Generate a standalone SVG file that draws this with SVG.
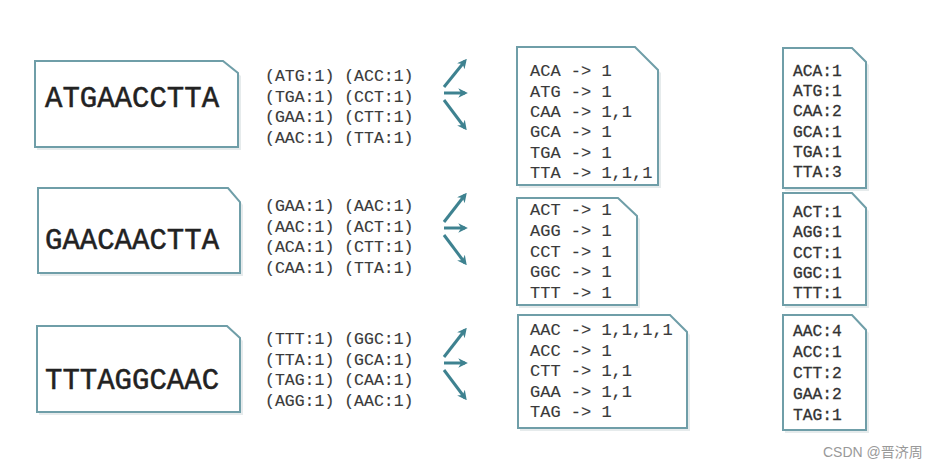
<svg xmlns="http://www.w3.org/2000/svg" width="936" height="470" viewBox="0 0 936 470">
<defs>
<style>
.box{fill:#ffffff;stroke:#6f9ea8;stroke-width:2}
.shadow{fill:#e6ebec}
.seq{font-family:"Liberation Mono","DejaVu Sans Mono",monospace;font-size:29px;fill:#222;stroke:#222;stroke-width:0.5}
.pair{font-family:"Liberation Mono","DejaVu Sans Mono",monospace;font-size:16.5px;fill:#3a3a3a;stroke:#3a3a3a;stroke-width:0.15}
.lst{font-family:"Liberation Mono","DejaVu Sans Mono",monospace;font-size:17px;fill:#3a3a3a;stroke:#3a3a3a;stroke-width:0.15}
.cnt{font-family:"Liberation Mono","DejaVu Sans Mono",monospace;font-size:16.3px;fill:#333;stroke:#333;stroke-width:0.3}
.arr{stroke:#3e8290;stroke-width:3;fill:none;marker-end:url(#ah)}
.wm{font-family:"Liberation Sans","Noto Sans CJK SC",sans-serif;font-size:14px;fill:#999}
</style>
<marker id="ah" viewBox="0 0 10 10" refX="7" refY="5" markerWidth="3.2" markerHeight="3.2" orient="auto" markerUnits="strokeWidth">
<path d="M0,0 L10,5 L0,10 L3,5 z" fill="#3e8290"/>
</marker>
</defs>
<rect width="936" height="470" fill="#ffffff"/>

<g id="seq1">
<path class="shadow" d="M37,64 H226 L241,76 V150 H37 z"/>
<path class="box" d="M35,61 H223 L238,73 V147 H35 z"/>
<text class="seq" x="45" y="107">ATGAACCTTA</text>
</g>
<g id="seq2">
<path class="shadow" d="M40,191 H231 L243,205 V276 H40 z"/>
<path class="box" d="M38,188 H228 L240,202 V273 H38 z"/>
<text class="seq" x="45" y="249">GAACAACTTA</text>
</g>
<g id="seq3">
<path class="shadow" d="M39,329 H230 L243,341 V415 H39 z"/>
<path class="box" d="M37,326 H227 L240,338 V412 H37 z"/>
<text class="seq" x="45" y="389">TTTAGGCAAC</text>
</g>

<g id="pairs1">
<text class="pair" x="265" y="81">(ATG:1) (ACC:1)</text>
<text class="pair" x="265" y="102">(TGA:1) (CCT:1)</text>
<text class="pair" x="265" y="122">(GAA:1) (CTT:1)</text>
<text class="pair" x="265" y="143">(AAC:1) (TTA:1)</text>
</g>
<g id="pairs2">
<text class="pair" x="265" y="211">(GAA:1) (AAC:1)</text>
<text class="pair" x="265" y="232">(AAC:1) (ACT:1)</text>
<text class="pair" x="265" y="252">(ACA:1) (CTT:1)</text>
<text class="pair" x="265" y="273">(CAA:1) (TTA:1)</text>
</g>
<g id="pairs3">
<text class="pair" x="265" y="344">(TTT:1) (GGC:1)</text>
<text class="pair" x="265" y="365">(TTA:1) (GCA:1)</text>
<text class="pair" x="265" y="385">(TAG:1) (CAA:1)</text>
<text class="pair" x="265" y="406">(AGG:1) (AAC:1)</text>
</g>

<g id="connectors">
<line class="arr" x1="444" y1="87" x2="465" y2="61"/>
<line class="arr" x1="444" y1="93" x2="465" y2="93"/>
<line class="arr" x1="444" y1="100" x2="465" y2="128"/>
<line class="arr" x1="444" y1="222" x2="465" y2="195"/>
<line class="arr" x1="444" y1="228" x2="465" y2="228"/>
<line class="arr" x1="444" y1="235" x2="465" y2="263"/>
<line class="arr" x1="444" y1="357" x2="465" y2="330"/>
<line class="arr" x1="444" y1="363" x2="465" y2="363"/>
<line class="arr" x1="444" y1="370" x2="465" y2="398"/>
</g>

<g id="list1">
<path class="shadow" d="M519,50 H637 L661,73 V188 H519 z"/>
<path class="box" d="M517,47 H635 L658,70 V185 H517 z"/>
<text class="lst" x="530" y="76">ACA -&gt; 1</text>
<text class="lst" x="530" y="96.5">ATG -&gt; 1</text>
<text class="lst" x="530" y="117">CAA -&gt; 1,1</text>
<text class="lst" x="530" y="137">GCA -&gt; 1</text>
<text class="lst" x="530" y="157.5">TGA -&gt; 1</text>
<text class="lst" x="530" y="178">TTA -&gt; 1,1,1</text>
</g>
<g id="list2">
<path class="shadow" d="M519,201 H620 L640,219 V308 H519 z"/>
<path class="box" d="M517,198 H618 L637,216 V305 H517 z"/>
<text class="lst" x="530" y="215">ACT -&gt; 1</text>
<text class="lst" x="530" y="236">AGG -&gt; 1</text>
<text class="lst" x="530" y="256.5">CCT -&gt; 1</text>
<text class="lst" x="530" y="277">GGC -&gt; 1</text>
<text class="lst" x="530" y="298">TTT -&gt; 1</text>
</g>
<g id="list3">
<path class="shadow" d="M520,318 H672 L690,335 V431 H520 z"/>
<path class="box" d="M518,315 H670 L687,332 V428 H518 z"/>
<text class="lst" x="530" y="335">AAC -&gt; 1,1,1,1</text>
<text class="lst" x="530" y="355.5">ACC -&gt; 1</text>
<text class="lst" x="530" y="376">CTT -&gt; 1,1</text>
<text class="lst" x="530" y="396.5">GAA -&gt; 1,1</text>
<text class="lst" x="530" y="417">TAG -&gt; 1</text>
</g>

<g id="count1">
<path class="shadow" d="M785,51 H854 L869,65 V191 H785 z"/>
<path class="box" d="M783,48 H852 L866,62 V188 H783 z"/>
<text class="cnt" x="793" y="76">ACA:1</text>
<text class="cnt" x="793" y="96.2">ATG:1</text>
<text class="cnt" x="793" y="116.4">CAA:2</text>
<text class="cnt" x="793" y="136.6">GCA:1</text>
<text class="cnt" x="793" y="156.8">TGA:1</text>
<text class="cnt" x="793" y="177">TTA:3</text>
</g>
<g id="count2">
<path class="shadow" d="M785,196 H854 L869,211 V308 H785 z"/>
<path class="box" d="M783,193 H852 L866,208 V305 H783 z"/>
<text class="cnt" x="793" y="217">ACT:1</text>
<text class="cnt" x="793" y="237.3">AGG:1</text>
<text class="cnt" x="793" y="257.6">CCT:1</text>
<text class="cnt" x="793" y="277.9">GGC:1</text>
<text class="cnt" x="793" y="298.2">TTT:1</text>
</g>
<g id="count3">
<path class="shadow" d="M785,318 H854 L869,333 V433 H785 z"/>
<path class="box" d="M783,315 H852 L866,330 V430 H783 z"/>
<text class="cnt" x="793" y="336">AAC:4</text>
<text class="cnt" x="793" y="357">ACC:1</text>
<text class="cnt" x="793" y="378">CTT:2</text>
<text class="cnt" x="793" y="399">GAA:2</text>
<text class="cnt" x="793" y="420">TAG:1</text>
</g>

<text class="wm" x="823" y="457">CSDN @晋济周</text>
</svg>
